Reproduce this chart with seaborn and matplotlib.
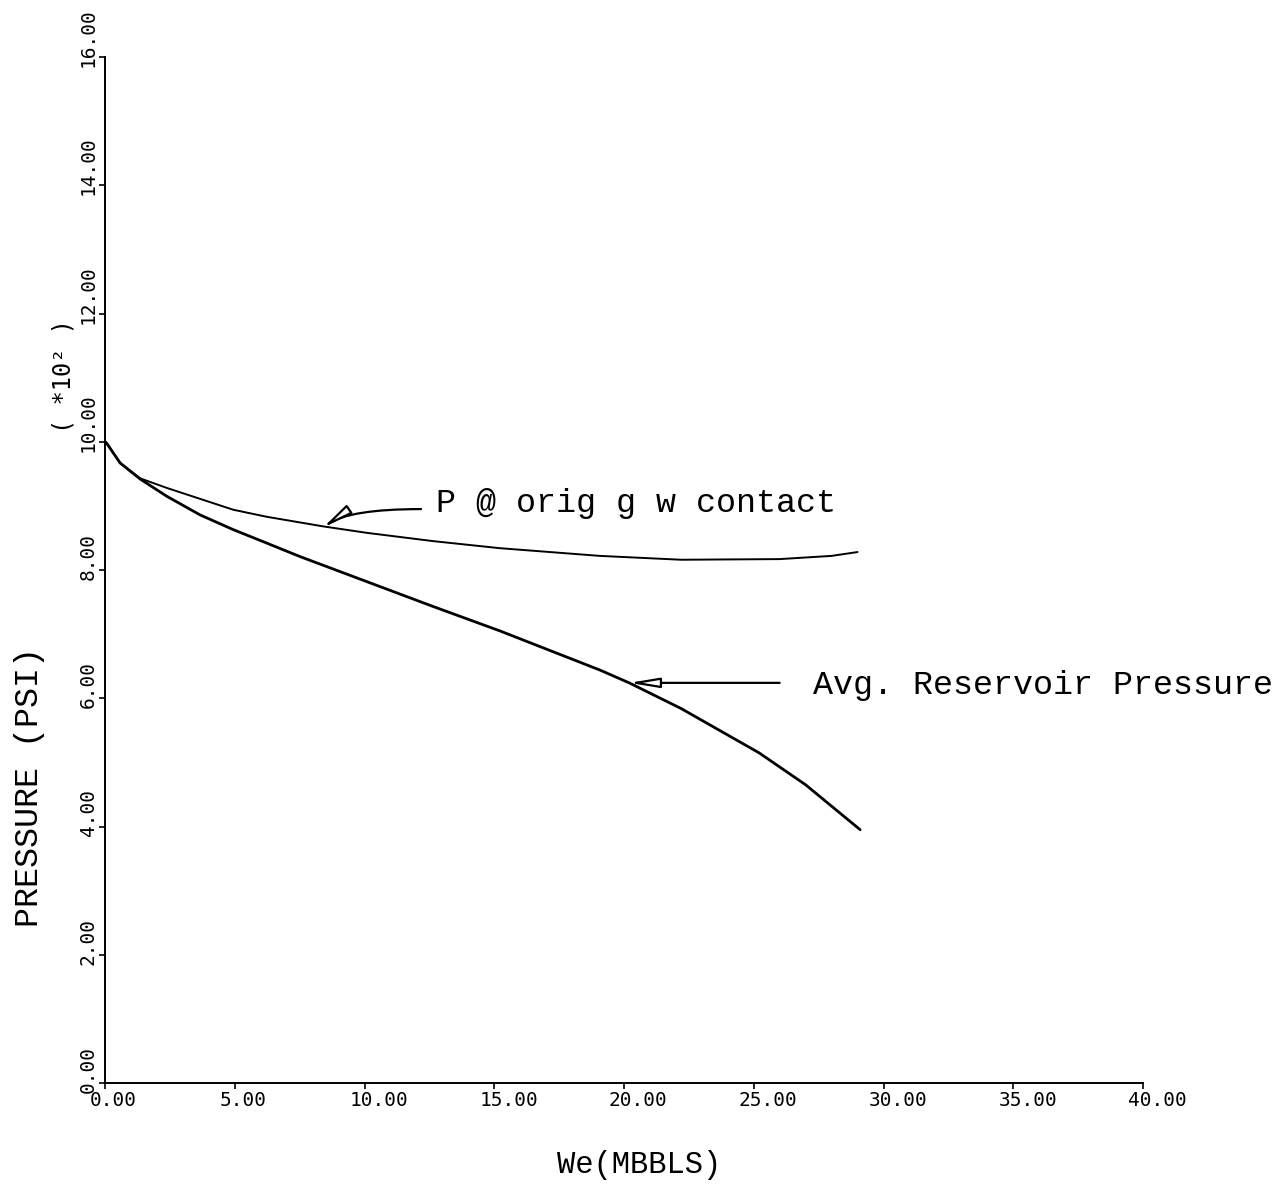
import matplotlib
matplotlib.use("Agg")
import matplotlib.pyplot as plt
from matplotlib.transforms import ScaledTranslation
import pandas as pd
import seaborn as sns

# Pressure at the original gas-water contact vs. cumulative water influx
we_contact = [0, 0.06, 0.58, 1.35, 2.38, 3.66, 4.94, 6.23, 8.41, 10.08, 12.65,
              15.22, 19.07, 22.2, 26.0, 28.0, 29.0]
p_contact = [10.0, 9.98, 9.67, 9.43, 9.28, 9.11, 8.94, 8.83, 8.68, 8.58, 8.45,
             8.34, 8.22, 8.16, 8.17, 8.22, 8.28]

# Average reservoir pressure vs. cumulative water influx
we_avg = [0, 0.06, 0.58, 1.35, 2.38, 3.66, 4.94, 6.23, 7.51, 10.08, 12.65,
          15.22, 19.07, 20.2, 22.2, 25.2, 27.0, 29.1]
p_avg = [10.0, 9.98, 9.67, 9.42, 9.15, 8.86, 8.63, 8.42, 8.21, 7.82, 7.43,
         7.05, 6.44, 6.24, 5.84, 5.15, 4.65, 3.95]

x_ticks = [0, 5, 10, 15, 20, 25, 30, 35, 40]
y_ticks = [0, 2, 4, 6, 8, 10, 12, 14, 16]

sns.set_style("ticks")
plt.rcParams["font.family"] = ["DejaVu Sans Mono", "DejaVu Sans"]
for key in ("text.color", "axes.labelcolor", "xtick.color", "ytick.color",
            "axes.edgecolor"):
    plt.rcParams[key] = "black"

W, H, DPI = 1279, 1189, 100
fig = plt.figure(figsize=(W / DPI, H / DPI), dpi=DPI)
ax = fig.add_axes([105 / W, 1 - 1083 / H, (1143 - 105) / W, (1083 - 57) / H])

df_c = pd.DataFrame({"We": we_contact, "P": p_contact})
df_a = pd.DataFrame({"We": we_avg, "P": p_avg})
sns.lineplot(data=df_c, x="We", y="P", ax=ax, color="black", lw=1.4,
             sort=False, estimator=None)
sns.lineplot(data=df_a, x="We", y="P", ax=ax, color="black", lw=2.0,
             sort=False, estimator=None)

ax.set_xlim(0, 40)
ax.set_ylim(0, 16)
ax.set_xticks(x_ticks)
ax.set_yticks(y_ticks)
ax.set_xticklabels([f"{v:.2f}" for v in x_ticks])
ax.set_yticklabels([f"{v:.2f}" for v in y_ticks])

for side in ("top", "right"):
    ax.spines[side].set_visible(False)
for side in ("left", "bottom"):
    ax.spines[side].set_linewidth(1.4)
    ax.spines[side].set_color("black")

ax.tick_params(axis="both", direction="out", length=4, width=1.2,
               colors="black", labelsize=14)
ax.tick_params(axis="x", pad=2)
ax.tick_params(axis="y", pad=8, labelrotation=90)

# tick labels start a little before their tick, like a pen plotter
for lab in ax.get_xticklabels():
    lab.set_ha("left")
    lab.set_transform(lab.get_transform() +
                      ScaledTranslation(-15 / DPI, 0, fig.dpi_scale_trans))
for lab in ax.get_yticklabels():
    lab.set_ha("center")
    lab.set_va("bottom")
    lab.set_transform(lab.get_transform() +
                      ScaledTranslation(0, -10 / DPI, fig.dpi_scale_trans))

ax.set_xlabel("")
ax.set_ylabel("")

# axis titles
fig.text(639 / W, 1 - 1165 / H, "We(MBBLS)", ha="center", va="center",
         fontsize=22, family="Liberation Mono")
fig.text(30 / W, 1 - 787 / H, "PRESSURE (PSI)", ha="center", va="center",
         rotation=90, fontsize=24, family="Liberation Mono")
fig.text(63 / W, 1 - 376 / H, "( *10² )", ha="center", va="center",
         rotation=90, fontsize=17)

# callouts
arrow_kw = dict(arrowstyle="-|>,head_length=1.8,head_width=0.3",
                fc="white", ec="black", lw=1.6, shrinkA=0, shrinkB=0)
ax.annotate("", xy=(8.4, 8.66), xytext=(12.18, 8.95),
            arrowprops=dict(connectionstyle="angle3,angleA=0,angleB=35",
                            **arrow_kw))
ax.text(12.75, 9.03, "P @ orig g w contact", ha="left", va="center",
        fontsize=24, family="Liberation Mono")

ax.annotate("", xy=(20.2, 6.24), xytext=(26.0, 6.24),
            arrowprops=dict(connectionstyle="arc3,rad=0", **arrow_kw))
ax.text(27.3, 6.2, "Avg. Reservoir Pressure", ha="left", va="center",
        fontsize=24, family="Liberation Mono", clip_on=False)

fig.savefig("out.png", dpi=DPI, facecolor="white")
